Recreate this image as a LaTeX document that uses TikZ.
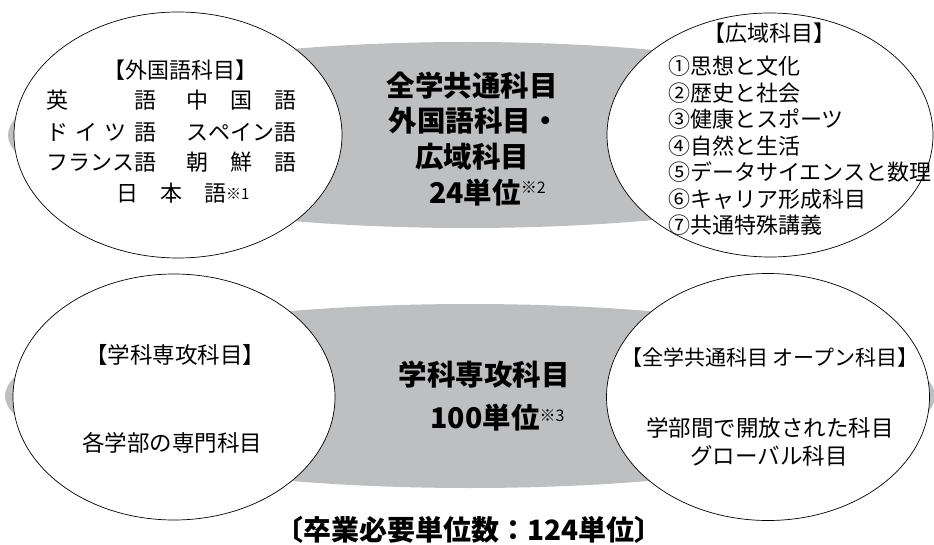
\documentclass[tikz,border=0pt]{standalone}
\usepackage{fontspec}
\setmainfont{Noto Sans CJK JP}
\usetikzlibrary{shapes.geometric}
\definecolor{bandgray}{RGB}{190,191,193}
\newcommand{\jfbox}[1]{\makebox[110pt][s]{#1}}
\newcommand{\supmark}[3]{\rlap{\raisebox{#1}{\fontsize{#2}{#2}\selectfont\mdseries #3}}}
\begin{document}
\begin{tikzpicture}[x=1pt,y=-1pt,
  band/.style={ellipse, fill=bandgray, inner sep=0pt, outer sep=0pt},
  oval/.style={ellipse, draw=black, fill=white, line width=0.7pt, inner sep=0pt, outer sep=0pt},
  lbl/.style={inner sep=0pt, font=\fontsize{22.5}{22.5}\selectfont},
  lst/.style={inner sep=0pt, font=\fontsize{22}{22}\selectfont},
  big/.style={inner sep=0pt, font=\fontsize{28.5}{28.5}\selectfont\bfseries},
]
\useasboundingbox (0,0) rectangle (934,545);
% gray bands
\node[band, minimum width=918pt, minimum height=186pt] (bandA) at (467,135) {};
\node[band, minimum width=930pt, minimum height=184pt] (bandB) at (470,396) {};
% white ovals
\node[oval, minimum width=328pt, minimum height=246pt] (ovFL) at (178,135) {};
\node[oval, minimum width=326pt, minimum height=244pt] (ovWA) at (770,135) {};
\node[oval, minimum width=322pt, minimum height=246pt] (ovMJ) at (174,397) {};
\node[oval, minimum width=323pt, minimum height=247pt] (ovOP) at (768,397) {};
% top-left oval text
\node[lst, anchor=base] (flT) at (180,79) {【外国語科目】};
\node[lst, anchor=base west] (flA) at (46,109) {\jfbox{英\hfill 語}\hspace{30pt}\jfbox{中\hfill 国\hfill 語}};
\node[lst, anchor=base west] (flB) at (46,141) {\jfbox{ド\hfill イ\hfill ツ\hfill 語}\hspace{30pt}\jfbox{ス\hfill ペ\hfill イ\hfill ン\hfill 語}};
\node[lst, anchor=base west] (flC) at (46,171) {\jfbox{フ\hfill ラ\hfill ン\hfill ス\hfill 語}\hspace{30pt}\jfbox{朝\hfill 鮮\hfill 語}};
\node[lst, anchor=base west] (flD) at (116,202) {\jfbox{日\hfill 本\hfill 語}\supmark{2pt}{15}{※1}};
% top center text
\node[big, anchor=base] (caA1) at (472,97) {全学共通科目};
\node[big, anchor=base] (caA2) at (474,132) {外国語科目・};
\node[big, anchor=base] (caA3) at (472,168) {広域科目};
\node[big, anchor=base] (caA4) at (475,204) {24単位\supmark{10pt}{16}{※2}};
% top-right oval text
\node[lst, anchor=base] (waT) at (769,42) {【広域科目】};
\node[lst, anchor=base west] (wa1) at (668,75) {①思想と文化};
\node[lst, anchor=base west] (wa2) at (668,101.5) {②歴史と社会};
\node[lst, anchor=base west] (wa3) at (668,128) {③健康とスポーツ};
\node[lst, anchor=base west] (wa4) at (668,154.5) {④自然と生活};
\node[lst, anchor=base west] (wa5) at (668,181) {⑤データサイエンスと数理};
\node[lst, anchor=base west] (wa6) at (668,207.5) {⑥キャリア形成科目};
\node[lst, anchor=base west] (wa7) at (668,234) {⑦共通特殊講義};
% bottom-left oval text
\node[lbl, anchor=base] (mjT) at (175,363) {【学科専攻科目】};
\node[lbl, anchor=base] (mjB) at (172,451) {各学部の専門科目};
% bottom center text
\node[big, anchor=base] (caB1) at (484,385) {学科専攻科目};
\node[big, anchor=base] (caB2) at (485,428) {100単位\supmark{7pt}{16}{※3}};
% bottom-right oval text
\node[lbl, font=\fontsize{21}{21}\selectfont, anchor=base] (opT) at (770,365) {【全学共通科目 オープン科目】};
\node[lbl, anchor=base] (opB1) at (770,436) {学部間で開放された科目};
\node[lbl, anchor=base] (opB2) at (769,464) {グローバル科目};
% footer
\node[big, font=\fontsize{28}{28}\selectfont\bfseries, anchor=base] (total) at (469,540) {〔卒業必要単位数：124単位〕};
\end{tikzpicture}
\end{document}
